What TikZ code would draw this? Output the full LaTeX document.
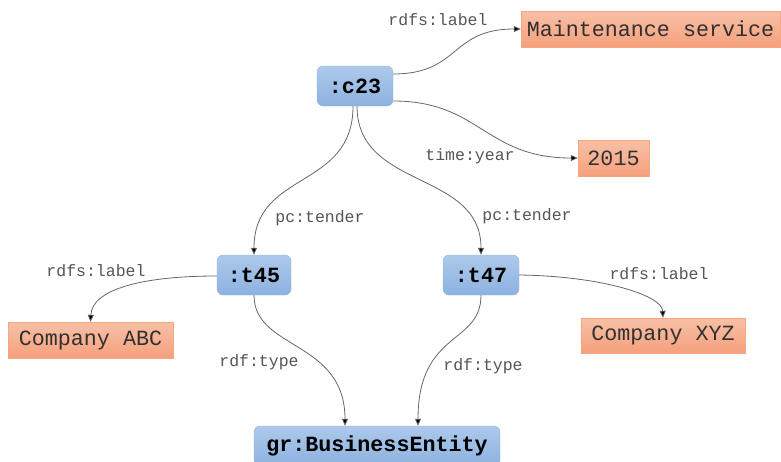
\documentclass[tikz,border=0pt]{standalone}
\usepackage{fontspec}
\setmonofont{Liberation Mono}
\usetikzlibrary{arrows.meta}
\definecolor{bluetop}{HTML}{ADC9EA}
\definecolor{bluebot}{HTML}{8CB2E0}
\definecolor{bluedraw}{HTML}{93B6E0}
\definecolor{ortop}{HTML}{F8C0A6}
\definecolor{orbot}{HTML}{F5A07C}
\definecolor{ordraw}{HTML}{F7A680}
\definecolor{lblgray}{HTML}{555555}
\definecolor{linegray}{HTML}{666666}
\definecolor{txtdark}{HTML}{303030}
\begin{document}
\begin{tikzpicture}[x=1pt,y=-1pt,
  resnode/.style={rounded corners=6pt, draw=bluedraw, top color=bluetop, bottom color=bluebot,
    font=\fontsize{21.7}{24}\selectfont\ttfamily\bfseries, text=black, minimum height=40pt, inner sep=0pt},
  litnode/.style={draw=ordraw, top color=ortop, bottom color=orbot,
    font=\fontsize{21.7}{24}\selectfont\ttfamily, text=txtdark, minimum height=36pt, inner sep=0pt},
  edgelbl/.style={font=\fontsize{16.5}{18}\selectfont\ttfamily, text=lblgray, inner sep=0pt},
  link/.style={draw=linegray, line width=0.8pt, -{Triangle[length=7pt,width=6pt,fill=black]}}
]
\useasboundingbox (0,0) rectangle (781,461);
\node[litnode, minimum width=259pt] (maint) at (650.5,29) {Maintenance service};
\node[resnode, minimum width=76pt] (c23) at (355,86) {:c23};
\node[litnode, minimum width=71pt] (y2015) at (613.5,158) {2015};
\node[resnode, minimum width=74pt] (t45) at (254,275) {:t45};
\node[resnode, minimum width=76pt] (t47) at (481,275) {:t47};
\node[litnode, minimum width=165pt] (abc) at (90.5,340) {Company ABC};
\node[litnode, minimum width=164pt, minimum height=35pt] (xyz) at (663,335.5) {Company XYZ};
\node[resnode, minimum width=246pt] (be) at (377,446) {gr:BusinessEntity};

\node[edgelbl] (l1) at (438,20) {rdfs:label};
\node[edgelbl] (l2) at (470,156) {time:year};
\node[edgelbl] (l3) at (320,218) {pc:tender};
\node[edgelbl] (l4) at (527,216) {pc:tender};
\node[edgelbl] (l5) at (96,271) {rdfs:label};
\node[edgelbl] (l6) at (659,274) {rdfs:label};
\node[edgelbl] (l7) at (259,362) {rdf:type};
\node[edgelbl] (l8) at (483,366) {rdf:type};

\draw[link] ([yshift=12pt]c23.east) .. controls (460,74) and (450,29) .. (maint.west);
\draw[link] ([yshift=-15pt]c23.east) .. controls (480,101) and (485,158) .. (y2015.west);
\draw[link] ([xshift=-2pt]c23.south) .. controls (353,190) and (254,170) .. (t45.north);
\draw[link] ([xshift=2pt]c23.south) .. controls (357,190) and (481,170) .. (t47.north);
\draw[link] ([yshift=-1pt]t45.west) .. controls (140,276) and (92,290) .. (abc.north);
\draw[link] (t47.east) .. controls (600,276) and (662,295) .. (xyz.north);
\draw[link] (t45.south) .. controls (254,350) and (345,340) .. ([xshift=-32pt]be.north);
\draw[link] (t47.south) .. controls (481,345) and (418,330) .. ([xshift=41pt]be.north);
\end{tikzpicture}
\end{document}
